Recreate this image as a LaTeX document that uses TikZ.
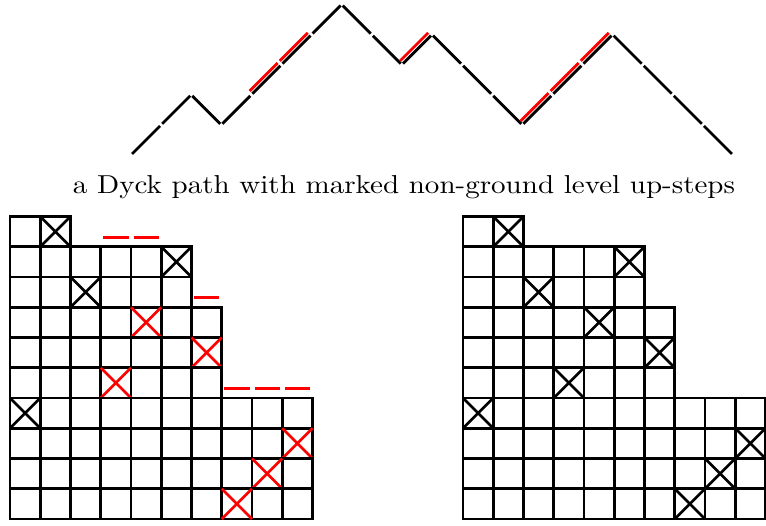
\documentclass[tikz,border=0pt]{standalone}
\begin{document}
\begin{tikzpicture}[x=1pt,y=-1pt,
  gridline/.style={line width=2.9pt},
  cross/.style={line width=2.7pt},
  pathstep/.style={line width=2.8pt,shorten >=1.5pt,shorten <=1.5pt},
  redstep/.style={line width=2.8pt,red,shorten >=1.5pt,shorten <=1.5pt},
  reddash/.style={line width=2.8pt,red,shorten >=2.5pt,shorten <=2.5pt}]
\useasboundingbox (0,0) rectangle (766,525);
\def\s{30.1}
\def\cs{30.25}
% Dyck path
\foreach \i/\a/\b/\r in {1/0/1/0, 2/1/2/0, 3/2/1/0, 4/1/2/0, 5/2/3/1, 6/3/4/1, 7/4/5/0, 8/5/4/0, 9/4/3/0, 10/3/4/1, 11/4/3/0, 12/3/2/0, 13/2/1/0, 14/1/2/1, 15/2/3/1, 16/3/4/1, 17/4/3/0, 18/3/2/0, 19/2/1/0, 20/1/0/0} {
  \coordinate (p) at ({131+(\i-1)*\s},{155-\a*\s});
  \coordinate (q) at ({131+\i*\s},{155-\b*\s});
  \draw[pathstep] (p) -- (q);
  \ifnum\r=1 \draw[redstep] ([shift={(-2.8,-2.8)}]p) -- ([shift={(-2.8,-2.8)}]q); \fi
}
\node[anchor=base, inner sep=0pt] (cap) at (404,193) {\resizebox{662pt}{18pt}{a Dyck path with marked non-ground level up-steps}};
% grids
\foreach \gx/\isleft in {10/1, 463/0} {
  \foreach \r/\n/\c/\red in {1/2/2/0, 2/6/6/0, 3/6/3/0, 4/7/5/1, 5/7/7/1, 6/7/4/1, 7/10/1/0, 8/10/10/1, 9/10/9/1, 10/10/8/1} {
    \pgfmathsetmacro\ty{216.5+(\r-1)*\cs}
    \foreach \k in {1,...,\n} \draw[gridline] ({\gx+(\k-1)*\cs},\ty) rectangle ++(\cs,\cs);
    \pgfmathtruncatemacro\isred{\isleft*\red}
    \ifnum\isred=1 \def\xc{red}\else\def\xc{black}\fi
    \draw[cross,\xc] ({\gx+(\c-1)*\cs},\ty) -- ++(\cs,\cs) ({\gx+\c*\cs},\ty) -- ++(-\cs,\cs);
  }
}
% red dashes above left grid
\foreach \c/\r in {4/2,5/2,7/4,8/7,9/7,10/7}
  \draw[reddash] ({10+(\c-1)*\cs},{216.5+(\r-1)*\cs-9.5}) -- ++(\cs,0);
\end{tikzpicture}
\end{document}
